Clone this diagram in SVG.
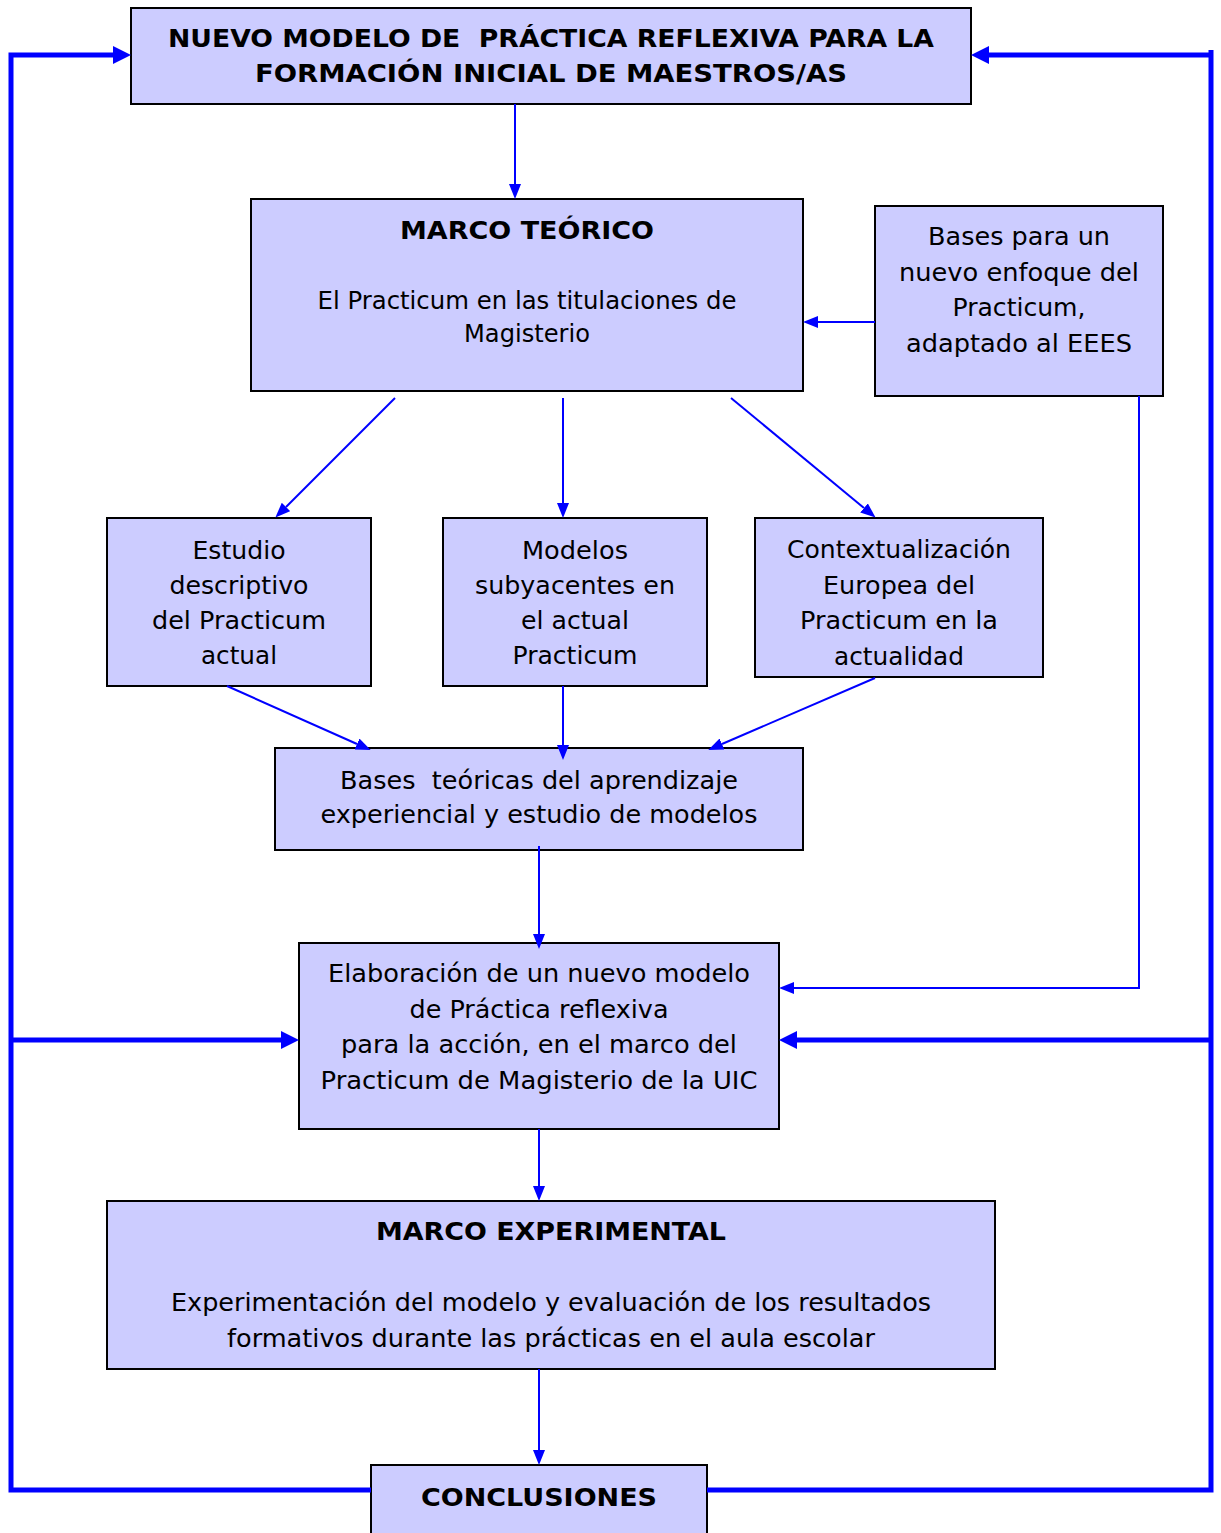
<svg xmlns="http://www.w3.org/2000/svg" width="1221" height="1533" viewBox="0 0 1221 1533">
  <style>
    .box { fill: #CCCCFF; stroke: #000; stroke-width: 2; }
    text { font-family: "DejaVu Sans", "Liberation Sans", sans-serif; font-size: 25px; fill: #000; text-anchor: middle; }
    .b { font-weight: bold; }
    .thin { stroke: #0000FF; stroke-width: 2; fill: none; }
    .thick { stroke: #0000FF; stroke-width: 5; fill: none; }
  </style>
  <defs>
    <!-- arrowheads start where the line stops, tip lies ahead of it -->
    <marker id="ah" markerUnits="userSpaceOnUse" markerWidth="15" markerHeight="12" refX="0" refY="6" orient="auto">
      <path d="M0,0 L15,6 L0,12 Z" fill="#0000FF"/>
    </marker>
    <marker id="ahBig" markerUnits="userSpaceOnUse" markerWidth="18" markerHeight="18" refX="0" refY="9" orient="auto">
      <path d="M0,0 L18,9 L0,18 Z" fill="#0000FF"/>
    </marker>
  </defs>

  <g id="nuevo-modelo">
    <rect class="box" x="131" y="8" width="840" height="96"/>
    <text class="b" x="551" y="47" textLength="766" lengthAdjust="spacingAndGlyphs" xml:space="preserve">NUEVO MODELO DE  PRÁCTICA REFLEXIVA PARA LA</text>
    <text class="b" x="551" y="82" textLength="592" lengthAdjust="spacingAndGlyphs">FORMACIÓN INICIAL DE MAESTROS/AS</text>
  </g>

  <g id="marco-teorico">
    <rect class="box" x="251" y="199" width="552" height="192"/>
    <text class="b" x="527" y="239" textLength="254" lengthAdjust="spacingAndGlyphs">MARCO TEÓRICO</text>
    <text x="527" y="309" textLength="419" lengthAdjust="spacingAndGlyphs">El Practicum en las titulaciones de</text>
    <text x="527" y="342" textLength="126" lengthAdjust="spacingAndGlyphs">Magisterio</text>
  </g>

  <g id="bases-enfoque">
    <rect class="box" x="875" y="206" width="288" height="190"/>
    <text x="1019" y="245" textLength="182" lengthAdjust="spacingAndGlyphs">Bases para un</text>
    <text x="1019" y="281" textLength="240" lengthAdjust="spacingAndGlyphs">nuevo enfoque del</text>
    <text x="1019" y="316" textLength="133" lengthAdjust="spacingAndGlyphs">Practicum,</text>
    <text x="1019" y="352" textLength="226" lengthAdjust="spacingAndGlyphs">adaptado al EEES</text>
  </g>

  <g id="estudio-descriptivo">
    <rect class="box" x="107" y="518" width="264" height="168"/>
    <text x="239" y="559" textLength="93" lengthAdjust="spacingAndGlyphs">Estudio</text>
    <text x="239" y="594" textLength="139" lengthAdjust="spacingAndGlyphs">descriptivo</text>
    <text x="239" y="629" textLength="174" lengthAdjust="spacingAndGlyphs">del Practicum</text>
    <text x="239" y="664" textLength="76" lengthAdjust="spacingAndGlyphs">actual</text>
  </g>

  <g id="modelos-subyacentes">
    <rect class="box" x="443" y="518" width="264" height="168"/>
    <text x="575" y="559" textLength="106" lengthAdjust="spacingAndGlyphs">Modelos</text>
    <text x="575" y="594" textLength="200" lengthAdjust="spacingAndGlyphs">subyacentes en</text>
    <text x="575" y="629" textLength="108" lengthAdjust="spacingAndGlyphs">el actual</text>
    <text x="575" y="664" textLength="125" lengthAdjust="spacingAndGlyphs">Practicum</text>
  </g>

  <g id="contextualizacion">
    <rect class="box" x="755" y="518" width="288" height="159"/>
    <text x="899" y="558" textLength="224" lengthAdjust="spacingAndGlyphs">Contextualización</text>
    <text x="899" y="594" textLength="152" lengthAdjust="spacingAndGlyphs">Europea del</text>
    <text x="899" y="629" textLength="198" lengthAdjust="spacingAndGlyphs">Practicum en la</text>
    <text x="899" y="665" textLength="130" lengthAdjust="spacingAndGlyphs">actualidad</text>
  </g>

  <g id="bases-teoricas">
    <rect class="box" x="275" y="748" width="528" height="102"/>
    <text x="539" y="789" textLength="398" lengthAdjust="spacingAndGlyphs" xml:space="preserve">Bases  teóricas del aprendizaje</text>
    <text x="539" y="823" textLength="437" lengthAdjust="spacingAndGlyphs">experiencial y estudio de modelos</text>
  </g>

  <g id="elaboracion">
    <rect class="box" x="299" y="943" width="480" height="186"/>
    <text x="539" y="982" textLength="422" lengthAdjust="spacingAndGlyphs">Elaboración de un nuevo modelo</text>
    <text x="539" y="1018" textLength="259" lengthAdjust="spacingAndGlyphs">de Práctica reflexiva</text>
    <text x="539" y="1053" textLength="396" lengthAdjust="spacingAndGlyphs">para la acción, en el marco del</text>
    <text x="539" y="1089" textLength="437" lengthAdjust="spacingAndGlyphs">Practicum de Magisterio de la UIC</text>
  </g>

  <g id="marco-experimental">
    <rect class="box" x="107" y="1201" width="888" height="168"/>
    <text class="b" x="551" y="1240" textLength="350" lengthAdjust="spacingAndGlyphs">MARCO EXPERIMENTAL</text>
    <text x="551" y="1311" textLength="760" lengthAdjust="spacingAndGlyphs">Experimentación del modelo y evaluación de los resultados</text>
    <text x="551" y="1347" textLength="648" lengthAdjust="spacingAndGlyphs">formativos durante las prácticas en el aula escolar</text>
  </g>

  <g id="conclusiones">
    <rect class="box" x="371" y="1465" width="336" height="80"/>
    <text class="b" x="539" y="1506" textLength="236" lengthAdjust="spacingAndGlyphs">CONCLUSIONES</text>
  </g>

  <!-- connectors -->
  <g id="connectors">
    <!-- feedback loops (thick) -->
    <polyline class="thick" points="371,1490 11,1490 11,55 113,55" marker-end="url(#ahBig)"/>
    <line class="thick" x1="11" y1="1040" x2="281" y2="1040" marker-end="url(#ahBig)"/>
    <polyline class="thick" points="707,1490 1211,1490 1211,50" />
    <line class="thick" x1="1211" y1="55" x2="989" y2="55" marker-end="url(#ahBig)"/>
    <line class="thick" x1="1211" y1="1040" x2="797" y2="1040" marker-end="url(#ahBig)"/>

    <!-- main flow (thin) -->
    <line class="thin" x1="515" y1="104" x2="515" y2="184" marker-end="url(#ah)"/>
    <line class="thin" x1="875" y1="322" x2="818" y2="322" marker-end="url(#ah)"/>
    <line class="thin" x1="395" y1="398" x2="286" y2="507" marker-end="url(#ah)"/>
    <line class="thin" x1="563" y1="398" x2="563" y2="503" marker-end="url(#ah)"/>
    <line class="thin" x1="731" y1="398" x2="864" y2="508" marker-end="url(#ah)"/>
    <line class="thin" x1="227" y1="686" x2="357" y2="744" marker-end="url(#ah)"/>
    <line class="thin" x1="563" y1="686" x2="563" y2="745" marker-end="url(#ah)"/>
    <line class="thin" x1="875" y1="678" x2="722" y2="744" marker-end="url(#ah)"/>
    <line class="thin" x1="539" y1="846" x2="539" y2="934" marker-end="url(#ah)"/>
    <polyline class="thin" points="1139,396 1139,988 794,988" marker-end="url(#ah)"/>
    <line class="thin" x1="539" y1="1129" x2="539" y2="1186" marker-end="url(#ah)"/>
    <line class="thin" x1="539" y1="1369" x2="539" y2="1450" marker-end="url(#ah)"/>
  </g>
</svg>
